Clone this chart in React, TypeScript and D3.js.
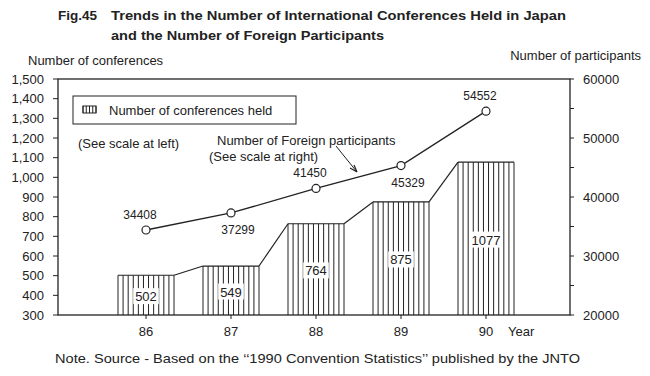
import React from "react";
import * as d3 from "d3";

const years = ["86", "87", "88", "89", "90"];
const conferences = [502, 549, 764, 875, 1077];
const participants = [34408, 37299, 41450, 45329, 54552];
const leftTicks = [300, 400, 500, 600, 700, 800, 900, 1000, 1100, 1200, 1300, 1400, 1500];
const rightMajorTicks = [20000, 30000, 40000, 50000, 60000];
const rightMinorTicks = [25000, 35000, 45000, 55000];
// label offsets for participant values (above / below)
const labelPos = ["above", "below", "above", "below", "above"];

const W = 650;
const H = 376;
const X0 = 58;
const X1 = 570;
const Y0 = 315;
const Y1 = 79;
const FONT = "'Liberation Sans', Arial, Helvetica, sans-serif";
const TITLE_FONT = "'Liberation Sans Narrow', 'Liberation Sans', Arial, sans-serif";

export default function App() {
  const x = d3.scalePoint<string>().domain(years).range([61, 571]).padding(1);
  const yL = d3.scaleLinear().domain([300, 1500]).range([Y0, Y1]);
  const yR = d3.scaleLinear().domain([20000, 60000]).range([Y0, Y1]);
  const fmt = (v: number) => (v >= 1000 ? d3.format(",")(v) : String(v));
  const bw = 56;
  const line = d3
    .line<number>()
    .x((_, i) => x(years[i]) as number)
    .y((d) => yR(d));

  const hatch = (x0: number, x1: number, y0: number, y1: number, n: number, key: string) =>
    d3.range(n).map((k) => {
      const xx = x0 + ((x1 - x0) * k) / (n - 1);
      return <line key={key + k} x1={xx} x2={xx} y1={y0} y2={y1} stroke="#222" strokeWidth={1} />;
    });

  return (
    <svg
      width={W}
      height={H}
      style={{ position: "absolute", left: 0, top: 0, background: "#fff" }}
      fontFamily={FONT}
    >
      <rect x={0} y={0} width={W} height={H} fill="#fff" />
      {/* Title */}
      <text x={58} y={20} fontFamily={TITLE_FONT} fontWeight="bold" fontSize={13.5} fill="#222">
        Fig.45
      </text>
      <text x={111} y={20} fontFamily={TITLE_FONT} fontWeight="bold" fontSize={13.5} fill="#222" textLength={455} lengthAdjust="spacingAndGlyphs">
        Trends in the Number of International Conferences Held in Japan
      </text>
      <text x={111} y={40} fontFamily={TITLE_FONT} fontWeight="bold" fontSize={13.5} fill="#222" textLength={273} lengthAdjust="spacingAndGlyphs">
        and the Number of Foreign Participants
      </text>
      {/* Axis titles */}
      <text x={28} y={65} fontSize={13} fill="#222">Number of conferences</text>
      <text x={641} y={60} fontSize={13} fill="#222" textAnchor="end">Number of participants</text>

      {/* Bars */}
      {conferences.map((v, i) => {
        const cx = x(years[i]) as number;
        const top = yL(v);
        return (
          <g key={"b" + i}>
            {hatch(cx - bw / 2, cx + bw / 2, top, Y0, 12, "h" + i)}
            <line x1={cx - bw / 2} x2={cx + bw / 2} y1={top} y2={top} stroke="#222" strokeWidth={1.2} />
          </g>
        );
      })}
      {/* connectors between bars */}
      {conferences.slice(0, -1).map((v, i) => (
        <line
          key={"c" + i}
          x1={(x(years[i]) as number) + bw / 2}
          y1={yL(v)}
          x2={(x(years[i + 1]) as number) - bw / 2}
          y2={yL(conferences[i + 1])}
          stroke="#222"
          strokeWidth={1.2}
        />
      ))}
      {/* bar value labels */}
      {conferences.map((v, i) => {
        const cx = x(years[i]) as number;
        const my = (yL(v) + Y0) / 2 + 1;
        const label = String(v);
        const tw = label.length * 7.2 + 4;
        return (
          <g key={"bl" + i}>
            <rect x={cx - tw / 2} y={my - 8} width={tw} height={16} fill="#fff" />
            <text x={cx} y={my + 5} fontSize={13} textAnchor="middle" fill="#222">
              {label}
            </text>
          </g>
        );
      })}

      {/* Frame */}
      <rect x={X0} y={Y1} width={X1 - X0} height={Y0 - Y1} fill="none" stroke="#222" strokeWidth={1.3} />

      {/* Left ticks */}
      {leftTicks.map((t) => (
        <g key={"lt" + t}>
          <line x1={X0 - 5} x2={X0} y1={yL(t)} y2={yL(t)} stroke="#222" strokeWidth={1} />
          <text x={44} y={yL(t) + 4.5} fontSize={13} textAnchor="end" fill="#222">
            {fmt(t)}
          </text>
        </g>
      ))}
      {/* Right ticks */}
      {rightMajorTicks.map((t) => (
        <g key={"rt" + t}>
          <line x1={X1} x2={X1 + 4} y1={yR(t)} y2={yR(t)} stroke="#222" strokeWidth={1} />
          <text x={583} y={yR(t) + 4.5} fontSize={13} fill="#222">
            {t}
          </text>
        </g>
      ))}
      {rightMinorTicks.map((t) => (
        <line key={"rm" + t} x1={X1} x2={X1 + 4} y1={yR(t)} y2={yR(t)} stroke="#222" strokeWidth={1} />
      ))}
      {/* X ticks and labels */}
      {years.map((yv) => (
        <g key={"x" + yv}>
          <line x1={x(yv) as number} x2={x(yv) as number} y1={Y0} y2={Y0 + 4} stroke="#222" strokeWidth={1} />
          <text x={x(yv) as number} y={336} fontSize={13} textAnchor="middle" fill="#222">
            {yv}
          </text>
        </g>
      ))}
      <text x={508} y={336} fontSize={13} fill="#222">Year</text>

      {/* Participants line */}
      <path d={line(participants) || ""} fill="none" stroke="#222" strokeWidth={1.3} />
      {participants.map((v, i) => {
        const cx = x(years[i]) as number;
        const cy = yR(v);
        const above = labelPos[i] === "above";
        return (
          <g key={"p" + i}>
            <circle cx={cx} cy={cy} r={4} fill="#fff" stroke="#222" strokeWidth={1.2} />
            <text
              x={cx + (above ? -6 : 7)}
              y={cy + (above ? -11 : 21)}
              fontSize={12}
              textAnchor="middle"
              fill="#222"
            >
              {v}
            </text>
          </g>
        );
      })}

      {/* Legend */}
      <rect x={73} y={96} width={223} height={28} fill="#fff" stroke="#222" strokeWidth={1} />
      <rect x={83} y={106} width={13} height={7} fill="none" stroke="#222" strokeWidth={1} />
      {hatch(83, 96, 106, 113, 5, "lg")}
      <text x={109} y={115} fontSize={13} fill="#222">Number of conferences held</text>

      {/* Annotations */}
      <text x={78} y={148} fontSize={13} fill="#222">(See scale at left)</text>
      <text x={217} y={145} fontSize={13} fill="#222">Number of Foreign participants</text>
      <text x={209} y={161} fontSize={13} fill="#222">(See scale at right)</text>
      <line x1={336} y1={146} x2={357} y2={172} stroke="#222" strokeWidth={1} />
      <path d="M357,172 L350,168 M357,172 L354,165" fill="none" stroke="#222" strokeWidth={1.2} />

      {/* Note */}
      <text x={55} y={363} fontSize={13} fill="#222" textLength={525} lengthAdjust="spacingAndGlyphs">
        Note. Source - Based on the ‘‘1990 Convention Statistics’’ published by the JNTO
      </text>
    </svg>
  );
}
